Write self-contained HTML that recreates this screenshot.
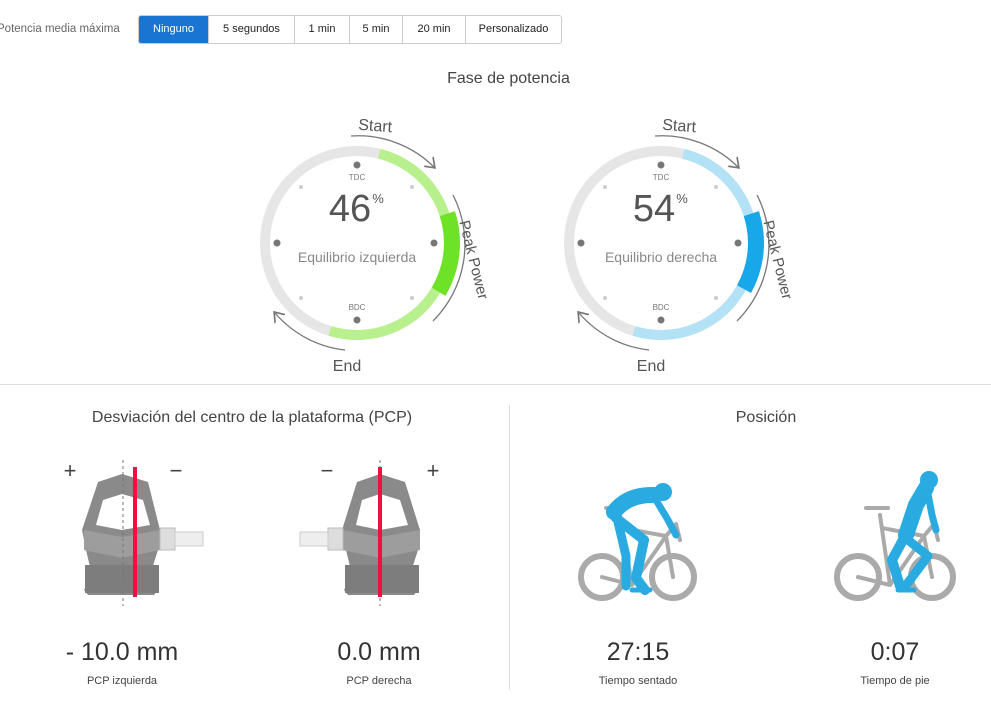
<!DOCTYPE html>
<html><head><meta charset="utf-8"><style>
body{margin:0;width:991px;height:712px;background:#fff;font-family:"Liberation Sans",sans-serif;position:relative;overflow:hidden;color:#333}
.t{position:absolute;white-space:nowrap}
.btns{position:absolute;left:138px;top:15px;height:29px;display:flex;border:1px solid #ccc;border-radius:3px;box-sizing:border-box;overflow:hidden}
.btns div{font-size:11px;line-height:27px;text-align:center;border-left:1px solid #ccc;color:#222}
.btns div:first-child{border-left:none;background:#1a74d2;color:#fff}
</style></head><body>
<div class="t" style="left:-3px;top:23px;font-size:11.5px;color:#666">Potencia media máxima</div>
<div class="btns">
<div style="width:69px">Ninguno</div><div style="width:85px">5 segundos</div><div style="width:54px">1 min</div><div style="width:52px">5 min</div><div style="width:62px">20 min</div><div style="width:95px">Personalizado</div>
</div>
<div class="t" style="left:0;width:1017px;text-align:center;top:70px;font-size:16px;color:#444">Fase de potencia</div>

<svg width="991" height="712" style="position:absolute;left:0;top:0" font-family="Liberation Sans, sans-serif">
<defs><marker id="ar" markerWidth="12" markerHeight="12" refX="6" refY="6" orient="auto"><path d="M0,1 L7,6 L0,11" fill="none" stroke="#777" stroke-width="1.3"/></marker></defs>
<g transform="translate(357,243)">
<circle r="92" fill="none" stroke="#e6e6e6" stroke-width="10"/>
<circle r="92" fill="none" stroke="#b8f08e" stroke-width="10" stroke-dasharray="293.9 1000" transform="rotate(-76)"/>
<circle r="95" fill="none" stroke="#6ee227" stroke-width="16" stroke-dasharray="81 1000" transform="rotate(-18)"/>
<path d="M-6,-107 A108,108 0 0 1 77,-76" fill="none" stroke="#777" stroke-width="1.3" marker-end="url(#ar)"/>
<path d="M96,-48 A108,108 0 0 1 76,78" fill="none" stroke="#777" stroke-width="1.3"/>
<path d="M-12,107 A108,108 0 0 1 -82,70" fill="none" stroke="#777" stroke-width="1.3" marker-end="url(#ar)"/>
<text x="10" y="-113" font-size="16" fill="#555" text-anchor="middle" transform="rotate(4)">Start</text>
<text x="-10" y="128" font-size="16" fill="#555" text-anchor="middle">End</text>
<text transform="translate(112,18) rotate(76)" font-size="15" fill="#555" text-anchor="middle">Peak Power</text>
<circle cx="0" cy="-78" r="3.5" fill="#777"/><circle cx="0" cy="77" r="3.5" fill="#777"/>
<circle cx="-80" cy="0" r="3.5" fill="#777"/><circle cx="77" cy="0" r="3.5" fill="#777"/>
<circle cx="-56" cy="-56" r="2" fill="#ccc"/><circle cx="55" cy="-56" r="2" fill="#ccc"/><circle cx="-56" cy="55" r="2" fill="#ccc"/><circle cx="55" cy="55" r="2" fill="#ccc"/>
<text x="0" y="-63" font-size="8" fill="#777" text-anchor="middle">TDC</text>
<text x="0" y="67" font-size="8" fill="#777" text-anchor="middle">BDC</text>
<text x="-7" y="-22" font-size="38" fill="#555" text-anchor="middle">46</text>
<text x="21" y="-40" font-size="13" fill="#555" text-anchor="middle">%</text>
<text x="0" y="19" font-size="14" fill="#888" text-anchor="middle">Equilibrio izquierda</text>
</g>
<g transform="translate(661,243)">
<circle r="92" fill="none" stroke="#e6e6e6" stroke-width="10"/>
<circle r="92" fill="none" stroke="#b3e2f6" stroke-width="10" stroke-dasharray="293.9 1000" transform="rotate(-76)"/>
<circle r="95" fill="none" stroke="#18a7e8" stroke-width="16" stroke-dasharray="78 1000" transform="rotate(-18)"/>
<path d="M-6,-107 A108,108 0 0 1 77,-76" fill="none" stroke="#777" stroke-width="1.3" marker-end="url(#ar)"/>
<path d="M96,-48 A108,108 0 0 1 76,78" fill="none" stroke="#777" stroke-width="1.3"/>
<path d="M-12,107 A108,108 0 0 1 -82,70" fill="none" stroke="#777" stroke-width="1.3" marker-end="url(#ar)"/>
<text x="10" y="-113" font-size="16" fill="#555" text-anchor="middle" transform="rotate(4)">Start</text>
<text x="-10" y="128" font-size="16" fill="#555" text-anchor="middle">End</text>
<text transform="translate(112,18) rotate(76)" font-size="15" fill="#555" text-anchor="middle">Peak Power</text>
<circle cx="0" cy="-78" r="3.5" fill="#777"/><circle cx="0" cy="77" r="3.5" fill="#777"/>
<circle cx="-80" cy="0" r="3.5" fill="#777"/><circle cx="77" cy="0" r="3.5" fill="#777"/>
<circle cx="-56" cy="-56" r="2" fill="#ccc"/><circle cx="55" cy="-56" r="2" fill="#ccc"/><circle cx="-56" cy="55" r="2" fill="#ccc"/><circle cx="55" cy="55" r="2" fill="#ccc"/>
<text x="0" y="-63" font-size="8" fill="#777" text-anchor="middle">TDC</text>
<text x="0" y="67" font-size="8" fill="#777" text-anchor="middle">BDC</text>
<text x="-7" y="-22" font-size="38" fill="#555" text-anchor="middle">54</text>
<text x="21" y="-40" font-size="13" fill="#555" text-anchor="middle">%</text>
<text x="0" y="19" font-size="14" fill="#888" text-anchor="middle">Equilibrio derecha</text>
</g>
<line x1="0" y1="384.5" x2="991" y2="384.5" stroke="#ddd"/>
<line x1="509.5" y1="405" x2="509.5" y2="690" stroke="#ddd"/>

<!-- left pedal -->
<g>
<path d="M98,482 L122,474 L148,482 L160,530 L158,550 L150,575 L158,590 L154,595 L88,595 L84,590 L92,575 L86,550 L82,530 Z M103,500 L96,525 L122,530 L150,525 L143,500 L122,494 Z" fill="#8a8a8a" fill-rule="evenodd"/>
<path d="M84,530 L122,537 L160,530 L160,550 L122,558 L84,550 Z" fill="#9d9d9d"/>
<rect x="85" y="565" width="74" height="28" fill="#7d7d7d"/>
<rect x="160" y="528" width="15" height="22" fill="#ddd" stroke="#bbb"/><rect x="175" y="532" width="28" height="14" fill="#eee" stroke="#ccc"/>
<line x1="123" y1="460" x2="123" y2="606" stroke="#777" stroke-dasharray="3,3"/>
<rect x="133" y="467" width="4" height="130" fill="#f01040"/>
<text x="70" y="478" font-size="22" fill="#444" text-anchor="middle">+</text>
<text x="176" y="478" font-size="22" fill="#444" text-anchor="middle">−</text>
</g>
<g>
<path d="M357,482 L380,474 L405,482 L420,530 L418,550 L410,575 L418,590 L414,595 L348,595 L344,590 L352,575 L346,550 L342,530 Z M362,500 L356,525 L380,530 L408,525 L400,500 L380,494 Z" fill="#8a8a8a" fill-rule="evenodd"/>
<path d="M342,530 L380,537 L420,530 L420,550 L380,558 L342,550 Z" fill="#9d9d9d"/>
<rect x="345" y="565" width="74" height="28" fill="#7d7d7d"/>
<rect x="328" y="528" width="15" height="22" fill="#ddd" stroke="#bbb"/><rect x="300" y="532" width="28" height="14" fill="#eee" stroke="#ccc"/>
<line x1="380" y1="460" x2="380" y2="606" stroke="#777" stroke-dasharray="3,3"/>
<rect x="378" y="467" width="4" height="130" fill="#f01040"/>
<text x="327" y="478" font-size="22" fill="#444" text-anchor="middle">−</text>
<text x="433" y="478" font-size="22" fill="#444" text-anchor="middle">+</text>
</g>

<!-- cyclist seated -->
<g stroke-linecap="round" stroke-linejoin="round" fill="none">
<circle cx="602" cy="577" r="21" stroke="#aaa" stroke-width="6"/>
<circle cx="673" cy="577" r="21" stroke="#aaa" stroke-width="6"/>
<path d="M602,577 L632,585 L666,536 L673,577 M632,585 L620,515 M622,528 L666,536 M606,508 L624,508 M666,536 L676,524 L680,540" stroke="#aaa" stroke-width="4"/>
<path d="M614,512 Q628,494 655,495" stroke="#29aae1" stroke-width="16"/>
<circle cx="663" cy="492" r="9" fill="#29aae1"/>
<path d="M656,500 L668,520 L676,535" stroke="#29aae1" stroke-width="7"/>
<path d="M616,518 L644,540 L636,578 L645,590" stroke="#29aae1" stroke-width="10"/>
<path d="M618,522 L626,556 L626,586" stroke="#29aae1" stroke-width="9"/>
<path d="M632,590 L650,590" stroke="#29aae1" stroke-width="5"/>
</g>
<!-- cyclist standing -->
<g stroke-linecap="round" stroke-linejoin="round" fill="none">
<circle cx="858" cy="577" r="21" stroke="#aaa" stroke-width="6"/>
<circle cx="932" cy="577" r="21" stroke="#aaa" stroke-width="6"/>
<path d="M858,577 L890,585 L924,536 L932,577 M890,585 L880,515 M882,528 L924,536 M866,508 L888,508 M924,536 L934,524 L938,540" stroke="#aaa" stroke-width="4"/>
<path d="M906,535 L916,505 L926,488" stroke="#29aae1" stroke-width="16"/>
<circle cx="929" cy="480" r="9" fill="#29aae1"/>
<path d="M928,494 L932,515 L936,530" stroke="#29aae1" stroke-width="7"/>
<path d="M904,538 L892,560 L900,586" stroke="#29aae1" stroke-width="10"/>
<path d="M908,540 L928,556 L904,588" stroke="#29aae1" stroke-width="9"/>
<path d="M898,590 L914,590" stroke="#29aae1" stroke-width="5"/>
</g>
</svg>

<div class="t" style="left:0;width:504px;text-align:center;top:409px;font-size:16px;color:#444">Desviación del centro de la plataforma (PCP)</div>
<div class="t" style="left:510px;width:512px;text-align:center;top:409px;font-size:16px;color:#444">Posición</div>
<div class="t" style="left:22px;width:200px;text-align:center;top:638px;font-size:25px;color:#333">- 10.0 mm</div>
<div class="t" style="left:279px;width:200px;text-align:center;top:638px;font-size:25px;color:#333">0.0 mm</div>
<div class="t" style="left:538px;width:200px;text-align:center;top:638px;font-size:25px;color:#333">27:15</div>
<div class="t" style="left:795px;width:200px;text-align:center;top:638px;font-size:25px;color:#333">0:07</div>
<div class="t" style="left:22px;width:200px;text-align:center;top:675px;font-size:11px;color:#444">PCP izquierda</div>
<div class="t" style="left:279px;width:200px;text-align:center;top:675px;font-size:11px;color:#444">PCP derecha</div>
<div class="t" style="left:538px;width:200px;text-align:center;top:675px;font-size:11px;color:#444">Tiempo sentado</div>
<div class="t" style="left:795px;width:200px;text-align:center;top:675px;font-size:11px;color:#444">Tiempo de pie</div>
</body></html>
